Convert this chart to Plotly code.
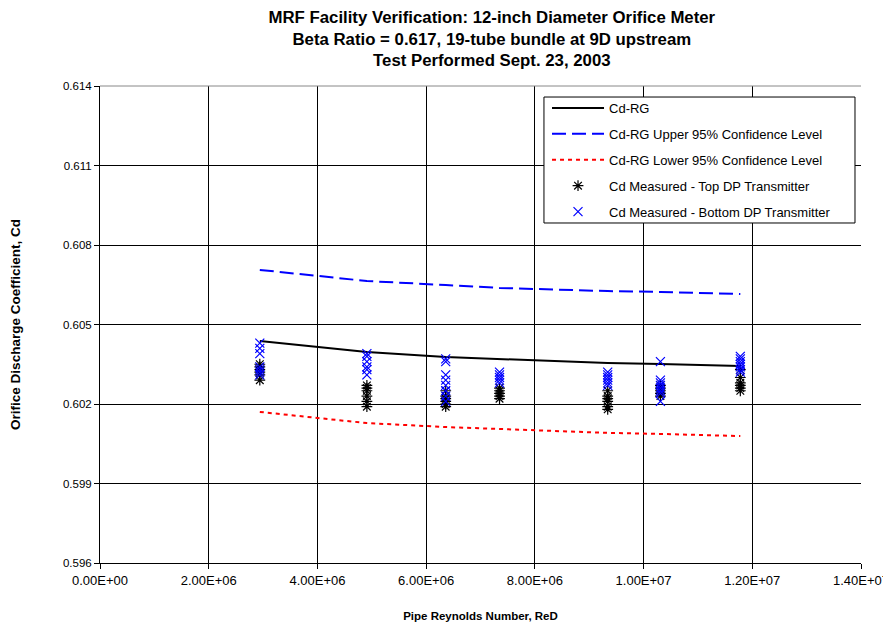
import plotly.graph_objects as go

# Test Reynolds numbers (one per flow condition)
re_points = [2.94e6, 4.91e6, 6.36e6, 7.35e6, 9.34e6, 1.031e7, 1.178e7]

# Regression curve and confidence bands
cd_rg = [0.60438, 0.60396, 0.60377, 0.60370, 0.60355, 0.60351, 0.60343]
cd_upper = [0.60706, 0.60664, 0.60649, 0.60638, 0.60626, 0.60623, 0.60615]
cd_lower = [0.60170, 0.60128, 0.60113, 0.60106, 0.60091, 0.60087, 0.60079]

# Measured Cd, top DP transmitter (per test point)
top_vals = [
    [0.6035, 0.6034, 0.6033, 0.6032, 0.6031, 0.6029],
    [0.6027, 0.6026, 0.6025, 0.6023, 0.6021, 0.6019],
    [0.6025, 0.6023, 0.6022, 0.6021, 0.6020, 0.6019],
    [0.6026, 0.6025, 0.6024, 0.6023, 0.6022],
    [0.6025, 0.6023, 0.6022, 0.6021, 0.6019, 0.6018],
    [0.6027, 0.6026, 0.6025, 0.6024, 0.6023],
    [0.6033, 0.6030, 0.6028, 0.6027, 0.6026, 0.6025],
]

# Measured Cd, bottom DP transmitter (per test point)
bottom_vals = [
    [0.6043, 0.6041, 0.6039, 0.6034, 0.6033, 0.6032, 0.6031],
    [0.6039, 0.6038, 0.6036, 0.6034, 0.6033, 0.6031],
    [0.6037, 0.6036, 0.6031, 0.6029, 0.6027, 0.6025, 0.6023, 0.6021],
    [0.6032, 0.6031, 0.6030, 0.6029, 0.6028],
    [0.6032, 0.6031, 0.6030, 0.6029, 0.6028, 0.6027],
    [0.6036, 0.6029, 0.6028, 0.6027, 0.6026, 0.6025, 0.6024, 0.6021],
    [0.6038, 0.6037, 0.6036, 0.6035, 0.6034, 0.6033, 0.6032],
]

x_tickvals = [0, 2e6, 4e6, 6e6, 8e6, 1e7, 1.2e7, 1.4e7]
x_ticktext = ["0.00E+00", "2.00E+06", "4.00E+06", "6.00E+06", "8.00E+06",
              "1.00E+07", "1.20E+07", "1.40E+07"]
y_tickvals = [0.596, 0.599, 0.602, 0.605, 0.608, 0.611, 0.614]
y_ticktext = ["0.596", "0.599", "0.602", "0.605", "0.608", "0.611", "0.614"]

top_x, top_y, bot_x, bot_y = [], [], [], []
for re, vals in zip(re_points, top_vals):
    top_x += [re] * len(vals)
    top_y += vals
for re, vals in zip(re_points, bottom_vals):
    bot_x += [re] * len(vals)
    bot_y += vals

FONT = "Arial, Liberation Sans, sans-serif"

fig = go.Figure()
fig.add_trace(go.Scatter(x=re_points, y=cd_rg, mode="lines", name="Cd-RG",
                         legendgroup="a",
                         line=dict(color="black", width=2)))
fig.add_trace(go.Scatter(x=re_points, y=cd_upper, mode="lines",
                         name="Cd-RG Upper 95% Confidence Level", legendgroup="b",
                         line=dict(color="#0000ff", width=2, dash="14px,6px")))
fig.add_trace(go.Scatter(x=re_points, y=cd_lower, mode="lines",
                         name="Cd-RG Lower 95% Confidence Level", legendgroup="c",
                         line=dict(color="#ff0000", width=2, dash="4px,4px")))
fig.add_trace(go.Scatter(x=top_x, y=top_y, mode="markers",
                         name="Cd Measured - Top DP Transmitter", legendgroup="d",
                         marker=dict(symbol="asterisk-open", size=9, color="black",
                                     line=dict(color="black", width=1.2))))
fig.add_trace(go.Scatter(x=bot_x, y=bot_y, mode="markers",
                         name="Cd Measured - Bottom DP Transmitter", legendgroup="e",
                         marker=dict(symbol="x-thin-open", size=9, color="#0000ff",
                                     line=dict(color="#0000ff", width=1.2))))

fig.update_layout(
    width=891, height=626,
    paper_bgcolor="white", plot_bgcolor="white",
    margin=dict(l=92, r=38, t=78, b=71, autoexpand=False),
    font=dict(family=FONT, size=12, color="black"),
    title=dict(
        text="<b>MRF Facility Verification: 12-inch Diameter Orifice Meter<br>"
             "Beta Ratio = 0.617, 19-tube bundle at 9D upstream<br>"
             "Test Performed Sept. 23, 2003</b>",
        x=0.543, xanchor="center", y=0.9765, yanchor="top",
        font=dict(family=FONT, size=16.8, color="black"),
    ),
    xaxis=dict(
        range=[0, 1.4e7], tickvals=x_tickvals, ticktext=x_ticktext,
        showgrid=True, gridcolor="black", gridwidth=1,
        showline=True, linecolor="black", linewidth=1, mirror=False,
        ticks="outside", ticklen=5, tickcolor="black",
        tickfont=dict(size=13), zeroline=False, automargin=False,
        title=dict(text="<b>Pipe Reynolds Number, ReD</b>",
                   font=dict(size=11.5), standoff=25),
    ),
    yaxis=dict(
        range=[0.596, 0.614], tickvals=y_tickvals, ticktext=y_ticktext,
        showgrid=True, gridcolor="black", gridwidth=1,
        showline=True, linecolor="black", linewidth=1,
        ticks="outside", ticklen=5, tickcolor="black",
        tickfont=dict(size=11.5), zeroline=False, automargin=False,
        title=dict(text="<b>Orifice Discharge Coefficient, Cd</b>",
                   font=dict(size=13.5), standoff=41),
    ),
    legend=dict(
        x=0.5874, y=0.9853, xanchor="left", yanchor="top",
        bgcolor="rgba(0,0,0,0)", borderwidth=0,
        font=dict(size=13), tracegroupgap=6, itemwidth=52,
    ),
    showlegend=True,
)
# plot-area top edge
fig.add_shape(type="line", xref="paper", yref="paper", x0=0, x1=1, y0=1, y1=1,
              line=dict(color="#888888", width=1))
# legend box
fig.add_shape(type="rect", xref="paper", yref="paper", layer="above",
              x0=0.5834, x1=0.9921, y0=0.7128, y1=0.9769,
              fillcolor="white", line=dict(color="black", width=1))

fig.write_html("out.html")
